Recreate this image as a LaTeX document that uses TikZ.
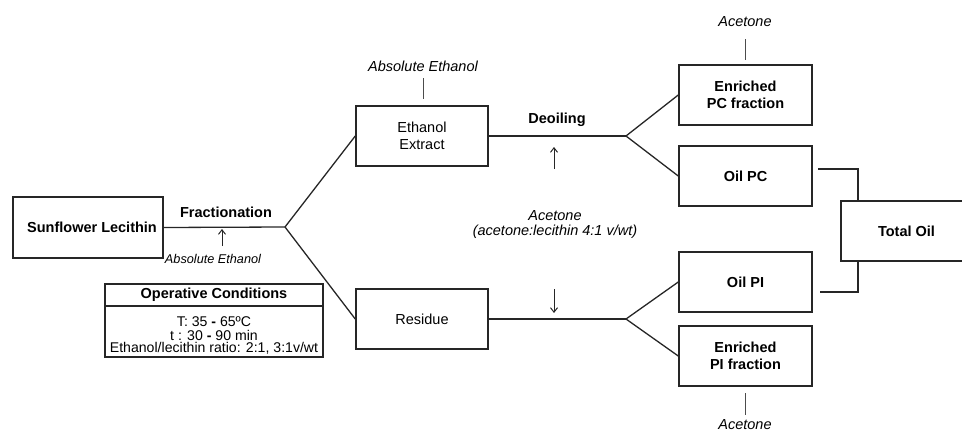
\documentclass[tikz,border=0pt]{standalone}
\usepackage{fontspec}
\setmainfont{Liberation Sans}
\usetikzlibrary{arrows.meta}
\tikzset{
  box/.style={draw=black!85, line width=1.5pt, rectangle, minimum width=132pt, minimum height=60pt, inner sep=0pt, align=center, font=\fontsize{14.5}{17}\selectfont},
  bbox/.style={box, font=\fontsize{14.5}{17}\selectfont\bfseries},
  conn/.style={draw=black!85, line width=1.3pt},
  thin/.style={draw=black!70, line width=0.8pt},
  arr/.style={draw=black!85, line width=1pt, -{Straight Barb[length=4.5pt,width=7pt]}},
  lbl/.style={inner sep=0pt, font=\fontsize{14.5}{17}\selectfont},
  oclbl/.style={inner sep=0pt, font=\fontsize{14.1}{15}\selectfont},
  blbl/.style={inner sep=0pt, font=\fontsize{14.5}{17}\selectfont\bfseries},
  ilbl/.style={inner sep=0pt, font=\fontsize{14.5}{17}\selectfont\itshape},
  silbl/.style={inner sep=0pt, font=\fontsize{12.7}{15}\selectfont\itshape},
}
\begin{document}
\begin{tikzpicture}[x=1pt,y=-1pt]
\useasboundingbox (0,0) rectangle (962,434);
\clip (0,0) rectangle (962,434);
% boxes
\node[bbox, minimum width=150pt, minimum height=61pt] (sl) at (88,227.5) {\hspace{8pt}Sunflower Lecithin};
\node[box] (ee) at (422,136) {Ethanol\\Extract};
\node[box] (res) at (422,319) {Residue};
\node[bbox, minimum width=133pt] (epc) at (745.5,95) {Enriched\\PC fraction};
\node[bbox, minimum width=133pt] (opc) at (745.5,176) {Oil PC};
\node[bbox, minimum width=133pt] (opi) at (745.5,282) {Oil PI};
\node[bbox, minimum width=133pt] (epi) at (745.5,356) {Enriched\\PI fraction};
\node[bbox, minimum width=131pt] (tot) at (906.5,231) {Total Oil};
% operative conditions
\node[draw=black!85, line width=1.5pt, rectangle, minimum width=218pt, minimum height=73pt, inner sep=0pt] (oc) at (214,320.5) {};
\draw[conn] (oc.west |- 0,306) coordinate (ocl) -- (oc.east |- 0,306) coordinate (ocr);
\node[blbl] (och) at (214,295) {Operative Conditions};
\node[oclbl] (oc1) at (214,322) {T: 35 \textbf{-} 65ºC};
\node[oclbl] (oc2) at (214,335) {t : 30 \textbf{-} 90 min};
\node[oclbl] (oc3) at (214,348) {Ethanol/lecithin ratio: 2:1, 3:1v/wt};
% fork coordinates
\coordinate (f1) at (285,227);
\coordinate (f2) at (626,136);
\coordinate (f3) at (626,319);
\draw[conn] (sl.east) -- (f1);
\draw[conn] (f1) -- (ee.west);
\draw[conn] (f1) -- (res.west);
\draw[conn] (ee.east) -- (f2);
\draw[conn] (f2) -- (epc.west);
\draw[conn] (f2) -- (opc.west);
\draw[conn] (res.east) -- (f3);
\draw[conn] (f3) -- (opi.west);
\draw[conn] (f3) -- (epi.west);
% total oil connectors
\coordinate (c1) at (818,169);
\coordinate (c1e) at (858,201);
\coordinate (c2) at (820,292);
\coordinate (c2e) at (858,261);
\draw[conn] (c1) -| (c1e);
\draw[conn] (c2) -| (c2e);
% labels
\node[blbl] (frac) at (226,212) {Fractionation};
\coordinate (a1s) at (222,246);
\coordinate (a1e) at (222,229);
\draw[arr] (a1s) -- (a1e);
\node[silbl] (abs1) at (213,259) {Absolute Ethanol};
\node[ilbl] (abs2) at (423,66) {Absolute Ethanol};
\coordinate (t1) at (423,78);
\coordinate (t1e) at (423,99);
\draw[thin] (t1) -- (t1e);
\node[blbl] (deo) at (557,120) {Deoiling};
\coordinate (a2s) at (554,169);
\coordinate (a2e) at (554,147);
\draw[arr] (a2s) -- (a2e);
\node[ilbl] (ac1) at (555,216) {Acetone};
\node[ilbl] (ac2) at (555,232) {(acetone:lecithin 4:1 v/wt)};
\coordinate (a3s) at (554,289);
\coordinate (a3e) at (554,313);
\draw[arr] (a3s) -- (a3e);
\node[ilbl] (act) at (745,22) {Acetone};
\coordinate (t2) at (745,39);
\coordinate (t2e) at (745,60);
\draw[thin] (t2) -- (t2e);
\node[ilbl] (acb) at (745,425) {Acetone};
\coordinate (t3) at (745,393);
\coordinate (t3e) at (745,415);
\draw[thin] (t3) -- (t3e);
\end{tikzpicture}
\end{document}
